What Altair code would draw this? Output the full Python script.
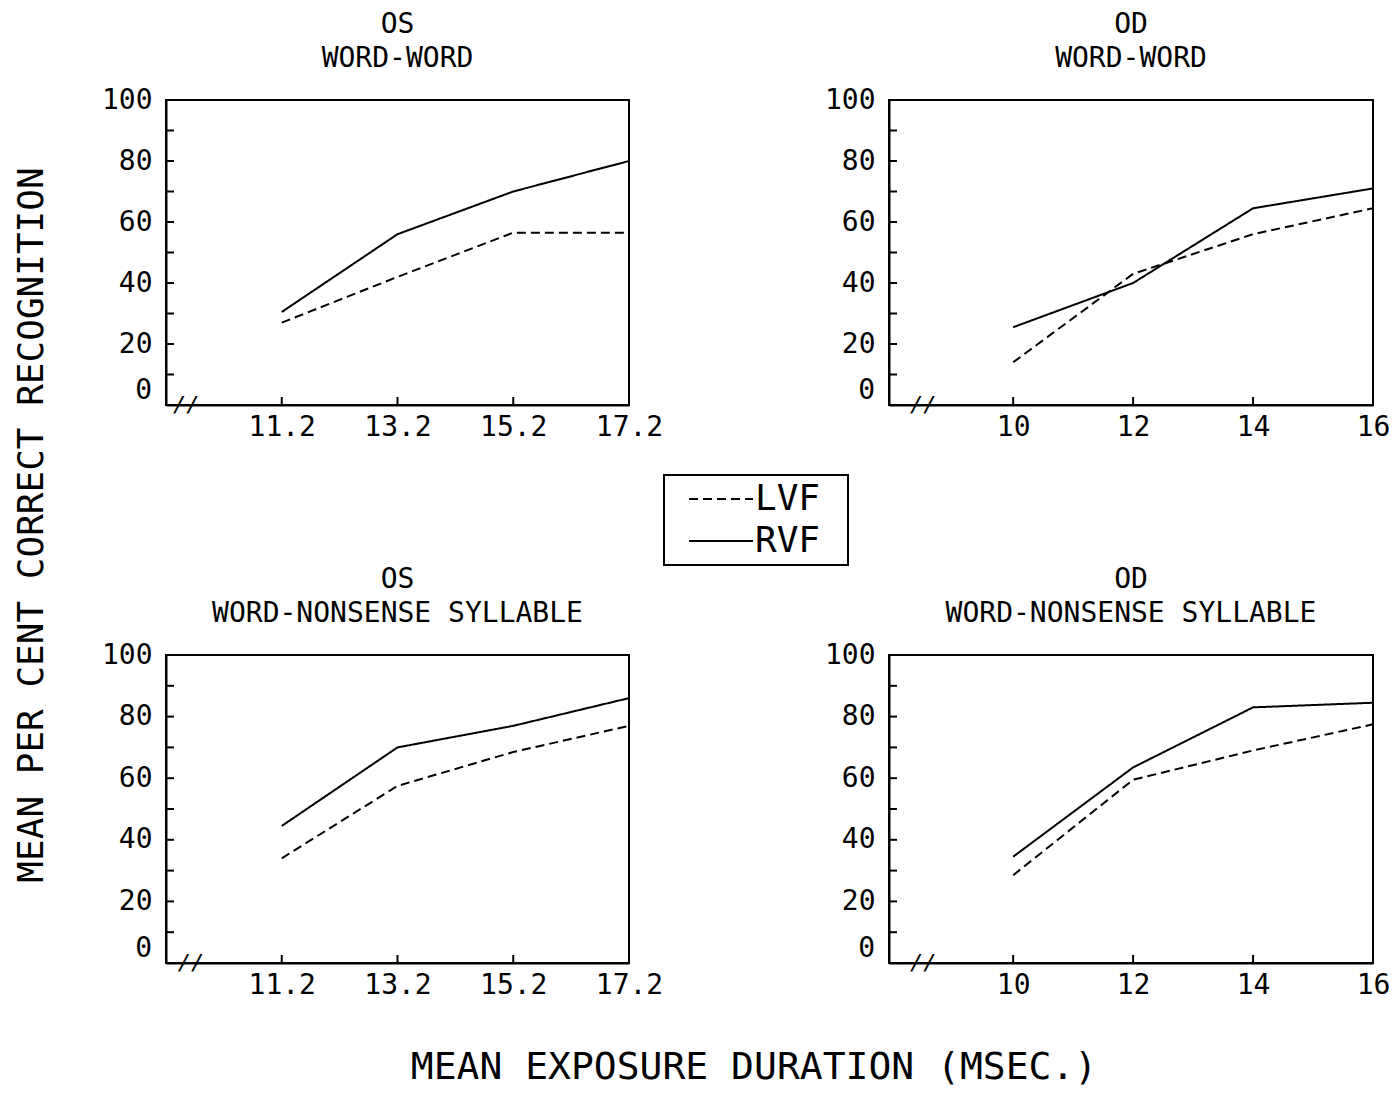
import altair as alt
import pandas as pd

FONT = "DejaVu Sans Mono"

# ---- data ----
x_os = [11.2, 13.2, 15.2, 17.2]
x_od = [10, 12, 14, 16]

os_ww_lvf = [27, 42, 56.5, 56.5]
os_ww_rvf = [30.5, 56, 70, 80]
od_ww_lvf = [14, 43, 56, 64.5]
od_ww_rvf = [25.5, 40, 64.5, 71]
os_wn_lvf = [34, 57.5, 68.5, 77]
os_wn_rvf = [44.5, 70, 77, 86]
od_wn_lvf = [28.5, 59.5, 69, 77.5]
od_wn_rvf = [34.5, 63.5, 83, 84.5]

y_labels = [20, 40, 60, 80, 100]
y_zero = [0]
y_minor = [10, 20, 30, 40, 50, 60, 70, 80, 90]
fields = ["LVF", "RVF"]
x_title = "MEAN EXPOSURE DURATION (MSEC.)"
y_title = "MEAN PER CENT CORRECT RECOGNITION"


def panel(xs, lvf, rvf, domain, fmt, brk_x, title, w, h, extra=None):
    df = pd.DataFrame({
        "x": list(xs) * 2,
        "y": list(lvf) + list(rvf),
        "field": ["LVF"] * len(xs) + ["RVF"] * len(xs),
    })
    xscale = alt.Scale(domain=domain, nice=False, zero=False)
    yscale = alt.Scale(domain=[0, 100], nice=False, zero=True)
    xaxis = alt.Axis(values=list(xs), format=fmt, labelFlush=False, tickSize=0,
                     grid=False, labelPadding=8, title=None)
    yaxis = alt.Axis(values=y_labels, format="d", tickSize=0, grid=False,
                     labelPadding=14, title=None)
    lines = alt.Chart(df).mark_line(color="black", strokeWidth=2).encode(
        x=alt.X("x:Q", scale=xscale, axis=xaxis),
        y=alt.Y("y:Q", scale=yscale, axis=yaxis),
        strokeDash=alt.StrokeDash(
            "field:N",
            scale=alt.Scale(domain=fields, range=[[9, 5], [1, 0]]),
            legend=alt.Legend(
                title="\u00a0", titleOrient="right", titlePadding=22, titleFontSize=2,
                orient="none", legendX=498, legendY=375,
                strokeColor="black", fillColor="white", padding=6,
                labelFont=FONT, labelFontSize=36, labelColor="black", labelOffset=16,
                symbolType="M-2,0H2", symbolSize=1024, symbolStrokeWidth=2,
                symbolStrokeColor="black", symbolOffset=33, rowPadding=6,
            ),
        ),
    )
    zero = alt.Chart(pd.DataFrame({"v": y_zero})).mark_text(
        font=FONT, fontSize=28, color="black", align="right", baseline="middle", dx=-14, dy=-14).encode(
        y=alt.Y("v:Q", scale=yscale, axis=yaxis), x=alt.value(0), text=alt.Text("v:Q", format="d"))
    yt = alt.Chart(pd.DataFrame({"t": y_minor})).mark_rule(color="black", strokeWidth=2).encode(
        y=alt.Y("t:Q", scale=yscale, axis=yaxis), x=alt.value(0), x2=alt.value(8))
    xt = alt.Chart(pd.DataFrame({"t": list(xs)})).mark_rule(color="black", strokeWidth=2).encode(
        x=alt.X("t:Q", scale=xscale, axis=xaxis), y=alt.value(h), y2=alt.value(h - 8))
    brk = alt.Chart(pd.DataFrame({"x": [brk_x], "y": [0], "txt": ["//"]})).mark_text(
        font=FONT, fontSize=22, fontStyle="italic", color="black", baseline="middle").encode(
        x=alt.X("x:Q", scale=xscale, axis=xaxis), y=alt.Y("y:Q", scale=yscale, axis=yaxis), text="txt:N")
    layers = [lines, zero, yt, xt, brk]
    if extra is not None:
        layers.append(extra)
    return alt.layer(*layers).properties(
        width=w, height=h,
        title=alt.TitleParams(text=title, font=FONT, fontSize=28, fontWeight="normal",
                              color="black", lineHeight=34, offset=13, anchor="middle"),
    )


xtitle_mark = alt.Chart(pd.DataFrame({"t": [x_title]})).mark_text(
    font=FONT, fontSize=38, color="black", align="center", baseline="middle").encode(
    x=alt.value(588), y=alt.value(413), text="t:N")

tl = panel(x_os, os_ww_lvf, os_ww_rvf, [9.2, 17.2], ".1f", 9.55, ["OS", "WORD-WORD"], 463, 305)
tr = panel(x_od, od_ww_lvf, od_ww_rvf, [7.93, 16], "d", 8.5, ["OD", "WORD-WORD"], 484, 305)
bl = panel(x_os, os_wn_lvf, os_wn_rvf, [9.2, 17.2], ".1f", 9.63, ["OS", "WORD-NONSENSE SYLLABLE"], 463, 308,
           extra=xtitle_mark)
br = panel(x_od, od_wn_lvf, od_wn_rvf, [7.93, 16], "d", 8.5, ["OD", "WORD-NONSENSE SYLLABLE"], 484, 308)

chart = alt.concat(
    tl, tr, bl, br, columns=2,
    spacing=alt.RowColnumber(row=250, column=260), bounds="flush",
    padding={"left": 6, "top": 2, "right": 0, "bottom": 0},
).properties(
    title=alt.TitleParams(text=y_title, orient="left", anchor="middle",
                          font=FONT, fontSize=36, fontWeight="normal", color="black",
                          offset=49, dx=24),
).configure_view(stroke="black", strokeWidth=2).configure_axis(
    domainColor="black", domainWidth=2, labelFont=FONT, labelFontSize=28, labelColor="black", grid=False,
).configure_legend(strokeWidth=2)

chart.save("out.html", embed_options={"renderer": "svg", "actions": False})
